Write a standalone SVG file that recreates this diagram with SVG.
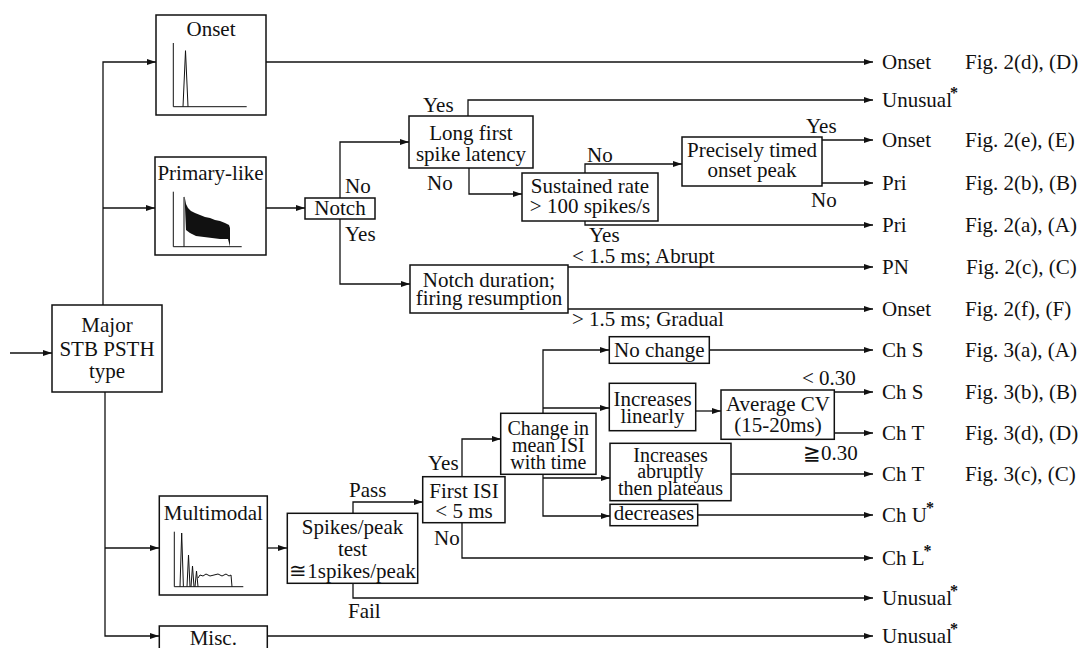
<svg xmlns="http://www.w3.org/2000/svg" width="1081" height="648" viewBox="0 0 1081 648">
<style>
text{font-family:"Liberation Serif","DejaVu Serif","Times New Roman",serif;font-size:21px;fill:#111}
.c{text-anchor:middle}
.t{font-size:20px}
.box{fill:#fff;stroke:#111;stroke-width:1.5}
.arr{fill:none;stroke:#111;stroke-width:1.3;marker-end:url(#ah)}
.h{fill:none;stroke:#111;stroke-width:1}
.sup{font-size:16px;font-weight:bold}
</style>
<defs>
<marker id="ah" markerUnits="userSpaceOnUse" markerWidth="9" markerHeight="6" refX="9" refY="3" orient="auto">
<path d="M0,0 L9,3 L0,6 z" fill="#111"/>
</marker>
</defs>
<rect width="1081" height="648" fill="#fff"/>
<g id="connectors">
<path class="arr" d="M10,353 H52"/>
<path class="arr" d="M103,305 V62 H156"/>
<path class="arr" d="M103,208 H155"/>
<path class="arr" d="M105,392 V636 H159"/>
<path class="arr" d="M105,548 H159"/>
<path class="arr" d="M266,62 H873"/>
<path class="arr" d="M266,208 H305"/>
<path class="arr" d="M340,198 V142 H409"/>
<path class="arr" d="M340,219 V284 H410"/>
<path class="arr" d="M468,116 V100 H873"/>
<path class="arr" d="M469,168 V194 H522"/>
<path class="arr" d="M585,173 V164 H682"/>
<path class="arr" d="M585,221 V225 H873"/>
<path class="arr" d="M822,140 H873"/>
<path class="arr" d="M822,183 H873"/>
<path class="arr" d="M568,267 H873"/>
<path class="arr" d="M568,309 H873"/>
<path class="arr" d="M267,548 H287"/>
<path class="arr" d="M353,513 V502 H423"/>
<path class="arr" d="M353,583 V598 H873"/>
<path class="arr" d="M462,477 V439 H501"/>
<path class="arr" d="M462,523 V558 H873"/>
<path class="arr" d="M543,413 V350 H609"/>
<path class="arr" d="M543,408 H609"/>
<path class="arr" d="M543,474 V516 H610"/>
<path class="arr" d="M543,478 H610"/>
<path class="arr" d="M709,350 H873"/>
<path class="arr" d="M696,411 H721"/>
<path class="arr" d="M834,392 H873"/>
<path class="arr" d="M834,433 H873"/>
<path class="arr" d="M731,474 H873"/>
<path class="arr" d="M698,515 H873"/>
<path class="arr" d="M267,636 H873"/>
</g>
<g id="labels">
<text x="423" y="112">Yes</text>
<text x="427" y="190">No</text>
<text x="587" y="162">No</text>
<text x="589" y="242">Yes</text>
<text x="806" y="133">Yes</text>
<text x="811" y="207">No</text>
<text x="345" y="193">No</text>
<text x="345" y="241">Yes</text>
<text x="572" y="263">&lt; 1.5 ms; Abrupt</text>
<text x="572" y="326">&gt; 1.5 ms; Gradual</text>
<text x="349" y="497">Pass</text>
<text x="348" y="618">Fail</text>
<text x="428" y="470">Yes</text>
<text x="434" y="545">No</text>
<text x="802" y="385">&lt; 0.30</text>
<text x="803" y="460">≧0.30</text>
</g>
<g id="major">
<rect class="box" x="52" y="305" width="110" height="87"/>
<text class="c" x="107" y="332">Major</text>
<text class="c" x="107" y="356">STB PSTH</text>
<text class="c" x="107" y="378">type</text>
</g>
<g id="onset">
<rect class="box" x="156" y="15" width="110" height="100"/>
<text class="c" x="211" y="36">Onset</text>
<path class="h" d="M173.3,43 V106.7 H246.7"/>
<path class="h" d="M183,106.7 L185.5,50.7 L188,106.7"/>
</g>
<g id="primary-like">
<rect class="box" x="155" y="157" width="111" height="98"/>
<text class="c" x="210.5" y="180">Primary-like</text>
<path class="h" d="M173.3,191.7 V246.7 H241.7"/>
<path class="h" d="M184,246.7 V197"/>
<path d="M184.5,196 L186,204 L188,208 L191,211 L195,213 L200,215 L205,217 L210,218 L215,220 L220,221 L225,223 L229,225 L230,228 L230,246.7 L228,239 L220,239 L212,238 L204,237 L196,236 L190,233 L186,230 Z" fill="#111"/>
</g>
<g id="notch">
<rect class="box" x="305" y="198" width="70" height="21"/>
<text class="c" x="340" y="215">Notch</text>
</g>
<g id="long-latency">
<rect class="box" x="409" y="116" width="124" height="52"/>
<text class="c" x="471" y="140">Long first</text>
<text class="c" x="471" y="161">spike latency</text>
</g>
<g id="sustained">
<rect class="box" x="522" y="173" width="136" height="48"/>
<text class="c" x="590" y="193">Sustained rate</text>
<text class="c" x="590" y="213">&gt; 100 spikes/s</text>
</g>
<g id="precisely">
<rect class="box" x="682" y="137" width="140" height="49"/>
<text class="c" x="752" y="157">Precisely timed</text>
<text class="c" x="752" y="177">onset peak</text>
</g>
<g id="notch-duration">
<rect class="box" x="410" y="265" width="158" height="48"/>
<text class="c" x="489" y="287">Notch duration;</text>
<text class="c" x="489" y="305">firing resumption</text>
</g>
<g id="multimodal">
<rect class="box" x="159.3" y="496" width="108" height="99"/>
<text class="c" x="213.3" y="520">Multimodal</text>
<path class="h" d="M174.3,531.7 V586.7 H243.3"/>
<path class="h" d="M180,586.7 L181.7,533 L183.4,586.7 M187,586.7 L188.5,555 L190,586.7 M191,586.7 L192.5,566 L194,586.7 M195,586.7 L196.5,571 L198,586.7 M198,578 L200,575 L203,576 L206,574 L210,576 L214,575 L218,574 L222,576 L226,574 L229,576 L231,575 L232,586.7"/>
</g>
<g id="misc">
<rect class="box" x="159.3" y="626" width="108" height="30"/>
<text class="c" x="213.3" y="645">Misc.</text>
</g>
<g id="spikes-peak">
<rect class="box" x="287.3" y="513.3" width="130.4" height="70"/>
<text class="c" x="352.5" y="534">Spikes/peak</text>
<text class="c" x="352.5" y="556">test</text>
<text class="c" x="352.5" y="578">≅1spikes/peak</text>
</g>
<g id="first-isi">
<rect class="box" x="422.7" y="476.7" width="82.3" height="46"/>
<text class="c" x="464" y="498">First ISI</text>
<text class="c" x="464" y="518">&lt; 5 ms</text>
</g>
<g id="change-isi">
<rect class="box" x="500.7" y="413.3" width="95.3" height="61"/>
<text class="c t" x="548.3" y="435">Change in</text>
<text class="c t" x="548.3" y="452">mean ISI</text>
<text class="c t" x="548.3" y="469">with time</text>
</g>
<g id="no-change">
<rect class="box" x="609.3" y="336.7" width="100" height="26.6"/>
<text class="c" x="659.3" y="357">No change</text>
</g>
<g id="incr-linearly">
<rect class="box" x="609.3" y="383.3" width="86.4" height="47.4"/>
<text class="c" x="652.5" y="406">Increases</text>
<text class="c" x="652.5" y="423">linearly</text>
</g>
<g id="average-cv">
<rect class="box" x="721" y="390" width="113.3" height="49.3"/>
<text class="c" x="778" y="411">Average CV</text>
<text class="c" x="778" y="432">(15-20ms)</text>
</g>
<g id="incr-abruptly">
<rect class="box" x="610" y="443.3" width="121" height="57.4"/>
<text class="c t" x="670.5" y="461.5">Increases</text>
<text class="c t" x="670.5" y="477.5">abruptly</text>
<text class="c t" x="670.5" y="495">then plateaus</text>
</g>
<g id="decreases">
<rect class="box" x="610" y="504.3" width="87.7" height="21.4"/>
<text class="c" x="654" y="520">decreases</text>
</g>
<g id="outcomes">
<text x="882" y="69">Onset</text><text x="965" y="69">Fig. 2(d), (D)</text>
<text x="882" y="107">Unusual<tspan class="sup" dx="-2" dy="-9">*</tspan></text>
<text x="882" y="147">Onset</text><text x="965" y="147">Fig. 2(e), (E)</text>
<text x="882" y="190">Pri</text><text x="965" y="190">Fig. 2(b), (B)</text>
<text x="882" y="232">Pri</text><text x="965" y="232">Fig. 2(a), (A)</text>
<text x="882" y="274">PN</text><text x="966" y="274">Fig. 2(c), (C)</text>
<text x="882" y="316">Onset</text><text x="965" y="316">Fig. 2(f), (F)</text>
<text x="882" y="357">Ch S</text><text x="965" y="357">Fig. 3(a), (A)</text>
<text x="882" y="399">Ch S</text><text x="965" y="399">Fig. 3(b), (B)</text>
<text x="882" y="440">Ch T</text><text x="965" y="440">Fig. 3(d), (D)</text>
<text x="882" y="481">Ch T</text><text x="965" y="481">Fig. 3(c), (C)</text>
<text x="882" y="522">Ch U<tspan class="sup" dx="-1" dy="-9">*</tspan></text>
<text x="882" y="565">Ch L<tspan class="sup" dx="-1" dy="-9">*</tspan></text>
<text x="882" y="605">Unusual<tspan class="sup" dx="-2" dy="-9">*</tspan></text>
<text x="882" y="643">Unusual<tspan class="sup" dx="-2" dy="-9">*</tspan></text>
</g>
</svg>
